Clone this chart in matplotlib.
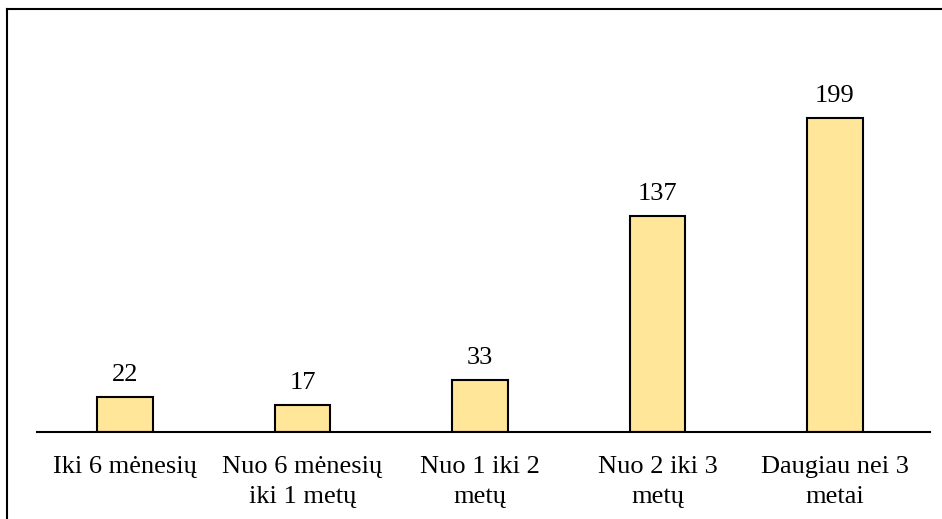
import matplotlib
matplotlib.use("Agg")
import matplotlib.pyplot as plt
from matplotlib.lines import Line2D

categories = ["Iki 6 mėnesių", "Nuo 6 mėnesių\niki 1 metų", "Nuo 1 iki 2\nmetų",
              "Nuo 2 iki 3\nmetų", "Daugiau nei 3\nmetai"]
values = [22, 17, 33, 137, 199]

plt.rcParams['font.family'] = ['Liberation Serif', 'DejaVu Serif']

W, H = 942, 519
fig = plt.figure(figsize=(W / 100, H / 100), dpi=100)

# plot area in pixel terms: x 37..930, baseline at y=432
left, right = 37 / W, 930 / W
bottom = 1 - 432 / H
top = 1 - 37.5 / H
ax = fig.add_axes([left, bottom, right - left, top - bottom])

x = list(range(len(values)))
ax.bar(x, values, width=0.315, color="#FFE699", edgecolor="black", linewidth=1.5, zorder=2)
for xi, v in zip(x, values):
    ax.annotate(str(v), (xi, v), xytext=(0, 8), textcoords="offset points",
                ha="center", va="bottom", fontsize=19)

ax.set_xlim(-0.496, len(values) - 0.465)
ax.set_ylim(0, 250)
ax.set_xticks(x)
ax.set_xticklabels(categories, fontsize=19, linespacing=1.5)
ax.tick_params(axis="x", length=0, pad=17)
ax.set_yticks([])
for s in ("top", "right", "left"):
    ax.spines[s].set_visible(False)
ax.spines["bottom"].set_linewidth(1.5)

# outer chart frame
fig.add_artist(Line2D([7 / W, 7 / W], [0, 1 - 9 / H], transform=fig.transFigure,
                      color="black", linewidth=1.5))
fig.add_artist(Line2D([7 / W, 1], [1 - 9 / H, 1 - 9 / H], transform=fig.transFigure,
                      color="black", linewidth=1.5))

fig.savefig("out.png", dpi=100)
